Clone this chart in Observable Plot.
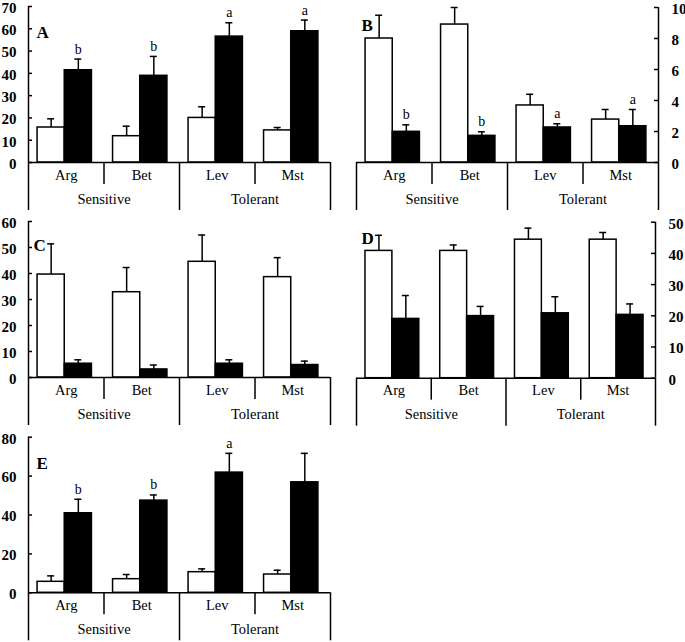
<!DOCTYPE html>
<html>
<head>
<meta charset="utf-8">
<script src="https://cdn.jsdelivr.net/npm/d3@7"></script>
<script src="https://cdn.jsdelivr.net/npm/@observablehq/plot@0.6"></script>
<style>
  html, body { margin: 0; padding: 0; background: white; }
  #chart { position: relative; width: 685px; height: 642px; overflow: hidden; background: white; }
  #chart svg { position: absolute; overflow: visible; background: transparent; }
</style>
</head>
<body>
<div id="chart"></div>
<script>
// ---- Data ----
const categories = ["Arg", "Bet", "Lev", "Mst"];
const groups = ["Sensitive", "Tolerant"];

const A_white = [15.7, 11.8, 20.0, 14.4];
const A_whiteErr = [3.9, 4.5, 5.0, 1.3];
const A_black = [41.4, 38.9, 56.5, 58.9];
const A_blackErr = [5.0, 8.7, 6.2, 5.0];
const A_letters = ["b", "b", "a", "a"];
const A_ticks = [0, 10, 20, 30, 40, 50, 60, 70];

const B_white = [8.0, 8.9, 3.68, 2.77];
const B_whiteErr = [1.5, 1.1, 0.72, 0.65];
const B_black = [1.98, 1.72, 2.26, 2.34];
const B_blackErr = [0.45, 0.26, 0.24, 1.08];
const B_letters = ["b", "b", "a", "a"];
const B_ticks = [0, 2, 4, 6, 8, 10];

const C_white = [39.6, 32.8, 44.5, 38.6];
const C_whiteErr = [11.8, 9.5, 10.3, 7.5];
const C_black = [5.3, 3.1, 5.3, 4.8];
const C_blackErr = [1.5, 1.7, 1.5, 1.5];
const C_letters = ["", "", "", ""];
const C_ticks = [0, 10, 20, 30, 40, 50, 60];

const D_white = [40.8, 40.8, 44.4, 44.4];
const D_whiteErr = [5.0, 1.9, 3.7, 2.3];
const D_black = [19.0, 19.9, 20.8, 20.3];
const D_blackErr = [7.5, 3.1, 5.3, 3.5];
const D_letters = ["", "", "", ""];
const D_ticks = [0, 10, 20, 30, 40, 50];

const E_white = [5.65, 7.0, 10.6, 9.4];
const E_whiteErr = [3.05, 2.4, 1.7, 2.2];
const E_black = [40.9, 47.4, 61.8, 56.8];
const E_blackErr = [7.2, 2.9, 9.9, 14.9];
const E_letters = ["b", "b", "a", ""];
const E_ticks = [0, 20, 40, 60, 80];

// ---- Layout (pixels) ----
const panels = [
  {label: "A", white: A_white, wErr: A_whiteErr, black: A_black, bErr: A_blackErr, letters: A_letters, ticks: A_ticks,
   left: 0, top: 0, width: 342, frameLeft: 28, frameRight: 330, yTop: 6, yZero: 162, side: "left", ldx: 8, ldy: 19},
  {label: "B", white: B_white, wErr: B_whiteErr, black: B_black, bErr: B_blackErr, letters: B_letters, ticks: B_ticks,
   left: 340, top: 0, width: 345, frameLeft: 356, frameRight: 658, yTop: 7, yZero: 162, side: "right", ldx: 5, ldy: 11},
  {label: "C", white: C_white, wErr: C_whiteErr, black: C_black, bErr: C_blackErr, letters: C_letters, ticks: C_ticks,
   left: 0, top: 214, width: 342, frameLeft: 28, frameRight: 330, yTop: 221, yZero: 377, side: "left", ldx: 5, ldy: 17},
  {label: "D", white: D_white, wErr: D_whiteErr, black: D_black, bErr: D_blackErr, letters: D_letters, ticks: D_ticks,
   left: 340, top: 214, width: 345, frameLeft: 356, frameRight: 655, yTop: 221.7, yZero: 377.7, side: "right", ldx: 5, ldy: 10},
  {label: "E", white: E_white, wErr: E_whiteErr, black: E_black, bErr: E_blackErr, letters: E_letters, ticks: E_ticks,
   left: 0, top: 428, width: 342, frameLeft: 28, frameRight: 330, yTop: 436.7, yZero: 592.3, side: "left", ldx: 8, ldy: 20}
];

const FONT = "Liberation Serif";
const SW = 1.5;
const W0 = 0.12, W1 = 0.48, B0 = 0.48, B1 = 0.84;
const wc = (W0 + W1) / 2, bc = (B0 + B1) / 2;

const chart = document.getElementById("chart");

for (const p of panels) {
  const rows = categories.map((c, i) => ({
    i, cat: c, white: p.white[i], wErr: p.wErr[i], black: p.black[i], bErr: p.bErr[i], letter: p.letters[i]
  }));
  const n = categories.length;
  const max = p.ticks[p.ticks.length - 1];
  const marginTop = p.yTop - p.top;
  const marginBottom = 50;
  const height = p.yZero - p.top + marginBottom;
  const marginLeft = p.frameLeft - p.left;
  const marginRight = p.left + p.width - p.frameRight;
  const unitPx = (p.frameRight - p.frameLeft) / n;
  const cap = 3.5 / unitPx;
  const tick = 4 / unitPx;
  const isLeft = p.side === "left";
  const axisX0 = isLeft ? 0 : n;

  const plot = Plot.plot({
    width: p.width,
    height,
    marginTop, marginBottom, marginLeft, marginRight,
    style: {fontFamily: FONT, fontSize: "14px", background: "transparent", color: "#000", overflow: "visible"},
    x: {domain: [0, n]},
    y: {domain: [0, max]},
    marks: [
      // bars
      Plot.rectY(rows, {x1: d => d.i + W0, x2: d => d.i + W1, y1: 0, y2: "white", fill: "white", stroke: "black", strokeWidth: SW}),
      Plot.rectY(rows, {x1: d => d.i + B0, x2: d => d.i + B1, y1: 0, y2: "black", fill: "black", stroke: "black", strokeWidth: SW}),
      // error bars (upper only)
      Plot.ruleX(rows, {x: d => d.i + wc, y1: "white", y2: d => d.white + d.wErr, stroke: "black", strokeWidth: SW}),
      Plot.ruleY(rows, {y: d => d.white + d.wErr, x1: d => d.i + wc - cap, x2: d => d.i + wc + cap, stroke: "black", strokeWidth: SW}),
      Plot.ruleX(rows, {x: d => d.i + bc, y1: "black", y2: d => d.black + d.bErr, stroke: "black", strokeWidth: SW}),
      Plot.ruleY(rows, {y: d => d.black + d.bErr, x1: d => d.i + bc - cap, x2: d => d.i + bc + cap, stroke: "black", strokeWidth: SW}),
      // significance letters
      Plot.text(rows.filter(d => d.letter), {x: d => d.i + bc, y: d => d.black + d.bErr, text: "letter", dy: -10, fontSize: 14, fill: "#000"}),
      // baseline & value axis line with inward ticks
      Plot.ruleY([0], {stroke: "black", strokeWidth: SW}),
      Plot.ruleX([axisX0], {y1: 0, y2: max, stroke: "black", strokeWidth: SW}),
      Plot.ruleY(p.ticks, {y: d => d, x1: isLeft ? 0 : n - tick, x2: isLeft ? tick : n, stroke: "black", strokeWidth: SW}),
      Plot.axisY(p.ticks, {
        anchor: p.side, tickSize: 0, tickPadding: isLeft ? 12 : 13, dy: 1.5,
        fontWeight: "bold", fontSize: 15, fill: "#000", label: null
      }),
      // category separators below the axis
      Plot.axisX([1, 3], {tickSize: 22, tickFormat: () => "", strokeWidth: SW, stroke: "black", label: null}),
      Plot.axisX([0, 2, 4], {tickSize: 48, tickFormat: () => "", strokeWidth: SW, stroke: "black", label: null}),
      Plot.text(categories, {x: (d, i) => i + 0.5, frameAnchor: "bottom", dy: 17, fontSize: 14.5, fill: "#000"}),
      Plot.text(groups, {x: (d, i) => 2 * i + 1, frameAnchor: "bottom", dy: 41, fontSize: 14.5, fill: "#000"}),
      // panel label
      Plot.text([p.label], {frameAnchor: "top-left", dx: p.ldx, dy: p.ldy, fontWeight: "bold", fontSize: 17, fill: "#000", textAnchor: "start"})
    ]
  });
  plot.style.left = p.left + "px";
  plot.style.top = p.top + "px";
  chart.appendChild(plot);
}
</script>
</body>
</html>
